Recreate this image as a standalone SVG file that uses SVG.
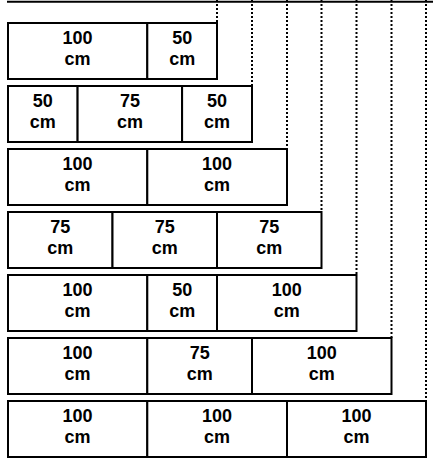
<svg xmlns="http://www.w3.org/2000/svg" width="433" height="459" viewBox="0 0 433 459">
<style>
.seg{fill:#fff;stroke:#000;stroke-width:2}
.dash{stroke:#000;stroke-width:2;stroke-dasharray:2,2;fill:none}
text{font-family:"Liberation Sans",Arial,sans-serif;font-weight:bold;font-size:18px;text-anchor:middle;fill:#000}
</style>
<rect width="433" height="459" fill="#fff"/>
<line x1="7" y1="1.8" x2="433" y2="1.8" stroke="#000" stroke-width="2"/>
<g id="connectors">
<line class="dash" x1="217" y1="0" x2="217" y2="23"/>
<line class="dash" x1="252" y1="0" x2="252" y2="86"/>
<line class="dash" x1="287" y1="0" x2="287" y2="149"/>
<line class="dash" x1="321.5" y1="0" x2="321.5" y2="212"/>
<line class="dash" x1="356.5" y1="0" x2="356.5" y2="275"/>
<line class="dash" x1="391.5" y1="0" x2="391.5" y2="338"/>
<line class="dash" x1="426" y1="0" x2="426" y2="401"/>
</g>
<g id="row1">
<rect class="seg" x="8" y="23" width="139.3" height="56"/>
<rect class="seg" x="147.3" y="23" width="69.7" height="56"/>
<text x="77.6" y="44">100</text><text x="77.6" y="65">cm</text>
<text x="182.2" y="44">50</text><text x="182.2" y="65">cm</text>
</g>
<g id="row2">
<rect class="seg" x="8" y="86" width="69.6" height="56"/>
<rect class="seg" x="77.6" y="86" width="104.5" height="56"/>
<rect class="seg" x="182.1" y="86" width="69.9" height="56"/>
<text x="42.8" y="107">50</text><text x="42.8" y="128">cm</text>
<text x="129.9" y="107">75</text><text x="129.9" y="128">cm</text>
<text x="217" y="107">50</text><text x="217" y="128">cm</text>
</g>
<g id="row3">
<rect class="seg" x="8" y="149" width="139.3" height="56"/>
<rect class="seg" x="147.3" y="149" width="139.7" height="56"/>
<text x="77.6" y="170">100</text><text x="77.6" y="191">cm</text>
<text x="217" y="170">100</text><text x="217" y="191">cm</text>
</g>
<g id="row4">
<rect class="seg" x="8" y="212" width="104.5" height="56"/>
<rect class="seg" x="112.5" y="212" width="104.5" height="56"/>
<rect class="seg" x="217" y="212" width="104.5" height="56"/>
<text x="60.2" y="233">75</text><text x="60.2" y="254">cm</text>
<text x="164.7" y="233">75</text><text x="164.7" y="254">cm</text>
<text x="269.2" y="233">75</text><text x="269.2" y="254">cm</text>
</g>
<g id="row5">
<rect class="seg" x="8" y="275" width="139.3" height="56"/>
<rect class="seg" x="147.3" y="275" width="69.7" height="56"/>
<rect class="seg" x="217" y="275" width="139.5" height="56"/>
<text x="77.6" y="296">100</text><text x="77.6" y="317">cm</text>
<text x="182.2" y="296">50</text><text x="182.2" y="317">cm</text>
<text x="286.7" y="296">100</text><text x="286.7" y="317">cm</text>
</g>
<g id="row6">
<rect class="seg" x="8" y="338" width="139.3" height="56"/>
<rect class="seg" x="147.3" y="338" width="104.7" height="56"/>
<rect class="seg" x="252" y="338" width="139.5" height="56"/>
<text x="77.6" y="359">100</text><text x="77.6" y="380">cm</text>
<text x="199.7" y="359">75</text><text x="199.7" y="380">cm</text>
<text x="321.7" y="359">100</text><text x="321.7" y="380">cm</text>
</g>
<g id="row7">
<rect class="seg" x="8" y="401" width="139.3" height="56"/>
<rect class="seg" x="147.3" y="401" width="139.7" height="56"/>
<rect class="seg" x="287" y="401" width="139" height="56"/>
<text x="77.6" y="422">100</text><text x="77.6" y="443">cm</text>
<text x="217" y="422">100</text><text x="217" y="443">cm</text>
<text x="356.5" y="422">100</text><text x="356.5" y="443">cm</text>
</g>
</svg>
